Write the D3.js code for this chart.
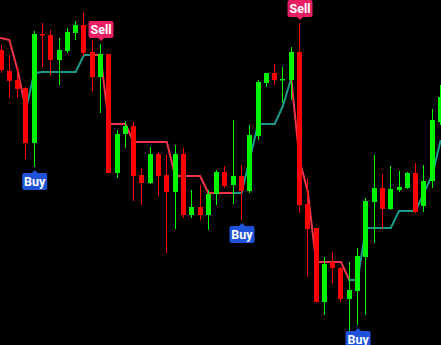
<!DOCTYPE html>
<html>
<head>
<meta charset="utf-8">
<script src="https://cdn.jsdelivr.net/npm/d3@7"></script>
<style>
    html, body { margin: 0; padding: 0; background: #000; }
    #chart { width: 441px; height: 345px; }
</style>
</head>
<body>
<div id="chart"></div>
<script>
//DATA (price units)
let opens  = [295,274,265,257,202,311,310,285,294,312,320,293,268,291,172,211,219,170,162,191,170,153,191,130,138,130,151,173,160,169,154,209,262,272,265,265,293,141,117,43,83,77,46,54,88,143,157,136,155,157,172,139,164,223];
let highs  = [300,290,278,258,314,322,315,307,317,324,332,305,301,291,215,224,223,177,198,193,190,200,197,155,160,155,175,179,225,180,220,265,272,281,278,298,322,167,117,88,93,78,83,97,147,190,171,179,174,173,182,180,236,260];
let lows   = [272,247,247,186,178,278,270,260,292,305,289,254,232,172,167,197,144,140,161,149,92,116,127,127,125,115,140,157,141,125,152,205,258,260,242,245,132,68,43,30,62,43,14,20,30,102,116,135,153,156,132,133,157,220];
let closes = [275,264,256,202,311,309.5,285,295,313,320,292,268,291,172,211,219,169,162,191,169,153,191,130,138,130,151,173,159,169,154,210,263,272,265,266,293,140,116,43,81,77,46,55,89,144,157,136,156,158,172,133,164,225,248];
let stops  = [307,305,275,235,272,273,273,273,273,273,290,290,290,221,221,221,203,203,203,203,203,169,169,169,169,152,152,152,152,152,186,221,221,221,239,267,185,153,83,83,83,83,65,65,117,117,117,117,134,134,134,152,170,204];
let trend  = ['d','d','d','d','u','u','u','u','u','u','u','u','d','d','d','d','d','d','d','d','d','d','d','d','d','d','d','d','d','u','u','u','u','u','u','u','d','d','d','d','d','d','d','u','u','u','u','u','u','u','u','u','u','u'];

let colors = {
    up: '#00f500',
    down: '#ff0000',
    lineUp: '#1b9a8a',
    lineDown: '#ef3349',
    buy: '#1f52d9',
    sell: '#e91e63'
};

init();

function init() {
    let chartBlock = d3.select('#chart');
    let width = 441, height = 345;
    let n = opens.length;

    let svg = chartBlock.append('svg')
        .attr('width', width)
        .attr('height', height)
        .style('display', 'block');

    svg.append('rect')
        .attr('width', width)
        .attr('height', height)
        .attr('fill', '#000');

    let x = d3.scaleLinear().domain([0, n - 1]).range([1, 440.5]);
    let y = d3.scaleLinear().domain([0, 345]).range([345, 0]);

    //Trailing stop line, one segment per bar so the colour can change
    let line = d3.line()
        .x(function(d) { return x(d); })
        .y(function(d) { return y(stops[d]); });

    let segs = d3.range(1, n).map(function(i) { return [i - 1, i]; });
    svg.append('g').selectAll('path')
        .data(segs)
        .enter()
        .append('path')
        .attr('fill', 'none')
        .attr('stroke', function(d) { return trend[d[1]] == 'u' ? colors.lineUp : colors.lineDown; })
        .attr('stroke-width', 2)
        .attr('stroke-linecap', 'round')
        .attr('d', function(d) { return line(d); });

    //Candles
    let bw = 5;
    let candles = svg.append('g').selectAll('g')
        .data(d3.range(n))
        .enter()
        .append('g');

    candles.append('line')
        .attr('x1', function(i) { return Math.round(x(i) - bw / 2) + bw / 2; })
        .attr('x2', function(i) { return Math.round(x(i) - bw / 2) + bw / 2; })
        .attr('y1', function(i) { return y(highs[i]); })
        .attr('y2', function(i) { return y(lows[i]); })
        .attr('stroke', function(i) { return closes[i] >= opens[i] ? colors.up : colors.down; })
        .attr('stroke-width', 1);

    candles.append('rect')
        .attr('x', function(i) { return Math.round(x(i) - bw / 2); })
        .attr('width', bw)
        .attr('y', function(i) { return y(Math.max(opens[i], closes[i])); })
        .attr('height', function(i) { return Math.max(1.5, Math.abs(y(opens[i]) - y(closes[i]))); })
        .attr('fill', function(i) { return closes[i] >= opens[i] ? colors.up : colors.down; });

    //Buy / Sell labels on trend flips
    let signals = [];
    for (let i = 1; i < n; i++) {
        if (trend[i] != trend[i - 1]) signals.push({i: i, type: trend[i] == 'u' ? 'Buy' : 'Sell'});
    }

    let lw = 25, lh = 17, tip = 3, gap = 3;
    let labels = svg.append('g').selectAll('g')
        .data(signals)
        .enter()
        .append('g')
        .attr('transform', function(d) {
            let cx = x(d.i) + 0.5;
            let top = d.type == 'Sell' ? y(highs[d.i]) - gap - tip - lh : y(lows[d.i]) + gap + tip;
            return 'translate(' + cx + ',' + top + ')';
        });

    labels.append('rect')
        .attr('x', -lw / 2)
        .attr('width', lw)
        .attr('height', lh)
        .attr('rx', 2)
        .attr('fill', function(d) { return d.type == 'Buy' ? colors.buy : colors.sell; });

    labels.append('path')
        .attr('d', function(d) {
            return d.type == 'Buy'
                ? 'M-3,0L0,' + (-tip) + 'L3,0Z'
                : 'M-3,' + lh + 'L0,' + (lh + tip) + 'L3,' + lh + 'Z';
        })
        .attr('fill', function(d) { return d.type == 'Buy' ? colors.buy : colors.sell; });

    labels.append('text')
        .attr('y', lh / 2 + 4.5)
        .attr('text-anchor', 'middle')
        .attr('fill', '#fff')
        .style('font-family', 'Roboto, "DejaVu Sans", sans-serif')
        .style('font-weight', 'bold')
        .style('font-size', '12.5px')
        .text(function(d) { return d.type; });
}
</script>
</body>
</html>
